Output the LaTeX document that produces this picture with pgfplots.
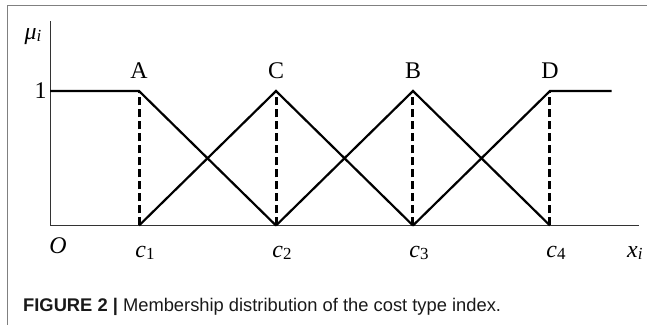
\documentclass[border=0pt]{standalone}
\usepackage{fontspec}
\setmainfont{Liberation Serif}
\setsansfont{Liberation Sans}
\usepackage{pgfplots}
\pgfplotsset{compat=1.18}
\newcommand{\sub}[1]{\raisebox{-2bp}{\fontsize{17}{17}\selectfont #1}}
\newcommand{\ci}[1]{\textit{c}\sub{#1}}

\begin{document}
\begin{tikzpicture}[lab/.style={font=\fontsize{24}{27}\selectfont, inner sep=0pt}]
\useasboundingbox (0,0) rectangle (651bp,325bp);
% screenshot frame
\draw[black!50, line width=1bp] (7bp,0) -- (7bp,319bp) -- (647bp,319bp);
\begin{axis}[
    at={(50bp,99.5bp)}, anchor=south west,
    scale only axis, width=589bp, height=204bp,
    xmin=0, xmax=4.3, ymin=0, ymax=1.517,
    axis x line=bottom, axis y line=left,
    axis line style={-, line width=1bp, black!80},
    xtick={0.65,1.65,2.65,3.65},
    xticklabels={\ci{1},\ci{2},\ci{3},\ci{4}},
    ytick={1}, yticklabels={1},
    major tick length=0pt,
    tick label style={font=\fontsize{24}{27}\selectfont},
    xticklabel style={anchor=base, yshift=-32.5bp, xshift=6bp},
    clip=false,
    mf/.style={black, line width=2.2bp, mark=none},
    drop/.style={black, line width=3bp, mark=none, dash pattern=on 8bp off 4bp},
]
% membership functions
\addplot[mf] coordinates {(0,1) (0.65,1) (1.65,0)};
\addplot[mf] coordinates {(0.65,0) (1.65,1) (2.65,0)};
\addplot[mf] coordinates {(1.65,0) (2.65,1) (3.65,0)};
\addplot[mf] coordinates {(2.65,0) (3.65,1) (4.1,1)};
% dashed drop lines
\addplot[drop] coordinates {(0.65,0) (0.65,1)};
\addplot[drop] coordinates {(1.65,0) (1.65,1)};
\addplot[drop] coordinates {(2.65,0) (2.65,1)};
\addplot[drop] coordinates {(3.65,0) (3.65,1)};

\node[lab, anchor=base, yshift=13bp] at (axis cs:0.65,1) {A};
\node[lab, anchor=base, yshift=13bp] at (axis cs:1.65,1) {C};
\node[lab, anchor=base, yshift=13bp] at (axis cs:2.65,1) {B};
\node[lab, anchor=base, yshift=13bp] at (axis cs:3.65,1) {D};
\node[lab, anchor=base, yshift=-28.5bp] at (axis cs:0.058,0) {\textit{O}};
\node[lab, anchor=base, yshift=-32.5bp] at (axis cs:4.27,0) {\textit{x}\sub{\textit{i}}};
\node[lab, anchor=base, xshift=-17bp, yshift=-18bp] at (rel axis cs:0,1) {\textit{μ}\sub{\textit{i}}};
\end{axis}
\node[anchor=base west, inner sep=0pt, font=\sffamily\fontsize{18.4}{21}\selectfont, text=black!90]
  at (23bp,14bp) {\textbf{FIGURE 2 |} Membership distribution of the cost type index.};
\end{tikzpicture}
\end{document}
